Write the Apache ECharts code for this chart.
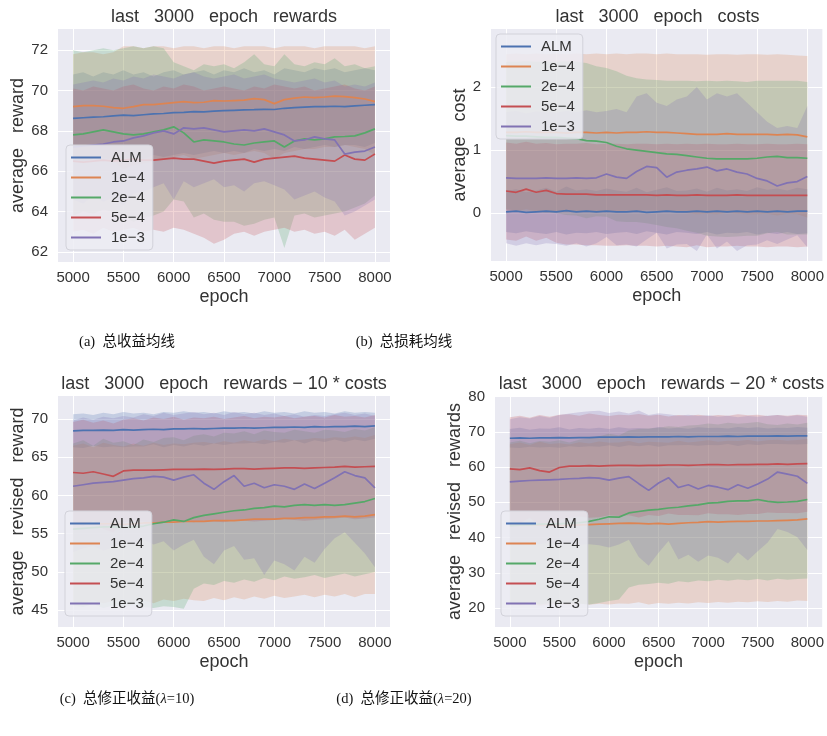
<!DOCTYPE html>
<html>
<head>
<meta charset="utf-8">
<script src="https://cdn.jsdelivr.net/npm/echarts@6/dist/echarts.min.js"></script>
<style>
  html, body { margin: 0; padding: 0; background: #ffffff; }
  #chart { width: 827px; height: 736px; }
</style>
</head>
<body>
<div id="chart"></div>
<script>
// ---- data -------------------------------------------------------------
const epochs = [5000,5100,5200,5300,5400, 5500,5600,5700,5800,5900, 6000,6100,6200,6300,6400,
  6500,6600,6700,6800,6900, 7000,7100,7200,7300,7400, 7500,7600,7700,7800,7900, 8000];
const seriesNames = ['ALM', '1e\u22124', '2e\u22124', '5e\u22124', '1e\u22123'];
const xTicks = [5000, 5500, 6000, 6500, 7000, 7500, 8000];
const rewardTicks = [62, 64, 66, 68, 70, 72];
const costTicks = [0, 1, 2];
const rev10Ticks = [45, 50, 55, 60, 65, 70];
const rev20Ticks = [20, 30, 40, 50, 60, 70, 80];

// rows follow seriesNames: ALM, 1e-4, 2e-4, 5e-4, 1e-3
const rewardMean = [
  [68.62,68.65,68.68,68.70,68.74, 68.78,68.76,68.80,68.84,68.86, 68.90,68.92,68.95,68.94,68.98, 69.00,69.02,69.04,69.05,69.07, 69.06,69.12,69.15,69.18,69.20, 69.20,69.22,69.20,69.24,69.27, 69.30],
  [69.20,69.25,69.25,69.22,69.15, 69.12,69.20,69.30,69.30,69.35, 69.40,69.45,69.40,69.42,69.50, 69.48,69.50,69.52,69.60,69.55, 69.35,69.55,69.62,69.68,69.65, 69.68,69.72,69.70,69.65,69.58, 69.45],
  [67.80,67.85,67.95,68.05,67.95, 67.85,67.80,67.85,67.95,68.05, 68.20,67.90,67.45,67.55,67.50, 67.45,67.35,67.30,67.40,67.45, 67.50,67.20,67.50,67.60,67.55, 67.60,67.70,67.72,67.75,67.90, 68.10],
  [66.50,66.45,66.50,66.55,66.50, 66.55,66.60,66.55,66.55,66.60, 66.65,66.60,66.60,66.50,66.40, 66.50,66.55,66.60,66.45,66.60, 66.65,66.70,66.75,66.65,66.60, 66.55,66.50,66.80,66.60,66.55, 66.85],
  [67.20,67.25,67.30,67.35,67.45, 67.50,67.65,67.75,67.90,68.00, 67.85,68.15,68.10,68.15,68.05, 67.95,68.00,68.05,68.00,68.10, 67.95,67.80,67.50,67.55,67.70, 67.60,67.55,66.85,66.95,67.00, 67.20]
];
const rewardHigh = [
  [70.8,70.9,70.7,70.9,70.8, 71.0,70.8,70.9,70.7,70.9, 71.0,70.8,70.9,71.0,70.8, 71.0,70.9,71.1,70.9,71.0, 70.8,71.1,71.0,70.9,71.1, 71.0,71.1,70.9,71.0,71.1, 71.0],
  [71.8,71.9,71.9,71.8,71.9, 72.2,72.2,72.1,72.2,72.2, 72.1,72.2,72.2,72.1,72.2, 72.2,72.1,72.2,72.2,72.2, 72.1,72.2,72.2,72.2,72.1, 72.2,72.2,72.2,72.2,72.1, 72.2],
  [72.0,71.9,72.0,72.1,72.0, 72.1,72.2,72.1,72.2,72.1, 71.4,71.2,71.0,71.3,71.2, 71.3,71.1,71.4,71.8,71.3, 71.2,71.8,71.3,71.2,71.4, 71.3,71.6,71.2,71.3,71.1, 71.2],
  [70.1,70.0,70.2,70.1,70.0, 70.2,70.3,70.1,70.0,70.2, 70.1,70.3,70.2,70.0,70.1, 70.2,70.1,70.0,70.2,70.1, 70.3,70.2,70.1,70.2,70.0, 70.1,70.2,70.3,70.1,70.0, 70.2],
  [70.3,70.4,70.5,70.4,70.6, 70.5,70.7,70.6,70.8,70.7, 70.6,70.8,70.9,70.7,70.6, 70.7,70.8,70.6,70.7,70.8, 70.6,70.5,70.4,70.5,70.6, 70.4,70.5,70.2,70.3,70.2, 70.4]
];
const rewardLow = [
  [66.5,66.4,66.6,66.5,66.7, 66.6,66.7,66.6,66.8,66.7, 66.8,66.9,66.8,66.9,67.0, 66.9,67.0,66.9,67.1,67.0, 67.1,67.0,67.2,67.1,67.2, 67.3,67.2,67.3,67.3,67.2, 67.4],
  [66.6,66.5,66.6,66.7,66.5, 66.1,66.3,66.4,66.5,66.6, 66.7,66.8,66.6,66.7,66.8, 66.9,66.8,66.9,67.0,66.9, 66.6,66.9,67.0,67.1,67.1, 67.2,67.2,67.3,67.2,67.1, 66.8],
  [63.8,64.0,63.9,64.1,64.0, 63.8,63.5,63.7,63.8,64.0, 64.6,64.5,63.7,63.9,63.6, 63.5,63.5,63.3,63.4,63.6, 63.7,62.2,63.8,63.9,63.7, 63.8,63.9,64.0,64.2,64.4, 64.8],
  [63.0,63.1,62.9,63.2,63.0, 63.1,63.2,63.0,63.1,63.0, 63.2,63.1,62.9,62.7,62.4, 62.6,62.9,63.0,62.8,63.0, 63.1,63.2,63.0,63.1,62.9, 63.0,62.8,63.1,62.6,62.9, 63.2],
  [64.6,64.4,64.8,64.5,64.7, 64.3,64.9,65.0,65.2,65.4, 64.6,65.5,65.2,65.4,65.6, 65.2,65.3,65.0,65.4,65.5, 65.3,65.1,64.6,64.8,65.0, 64.7,64.5,63.8,64.0,64.3, 64.6]
];

const costMean = [
  [0.02,0.03,0.01,0.02,0.03, 0.02,0.04,0.02,0.03,0.02, 0.03,0.02,0.02,0.03,0.01, 0.02,0.03,0.02,0.02,0.03, 0.02,0.03,0.02,0.03,0.02, 0.03,0.02,0.03,0.02,0.03, 0.03],
  [1.28,1.28,1.29,1.28,1.28, 1.28,1.27,1.28,1.28,1.27, 1.28,1.27,1.28,1.28,1.29, 1.28,1.28,1.27,1.26,1.25, 1.25,1.25,1.26,1.25,1.25, 1.25,1.25,1.24,1.25,1.24, 1.21],
  [1.23,1.22,1.22,1.21,1.20, 1.20,1.19,1.18,1.15,1.14, 1.12,1.06,1.02,1.00,0.98, 0.96,0.94,0.93,0.91,0.89, 0.87,0.86,0.86,0.86,0.86, 0.87,0.89,0.90,0.88,0.88, 0.87],
  [0.35,0.33,0.38,0.33,0.36, 0.31,0.30,0.30,0.30,0.29, 0.29,0.29,0.29,0.29,0.29, 0.28,0.29,0.28,0.28,0.29, 0.28,0.28,0.28,0.29,0.28, 0.28,0.28,0.28,0.28,0.28, 0.28],
  [0.56,0.55,0.55,0.55,0.56, 0.55,0.55,0.56,0.55,0.56, 0.62,0.57,0.55,0.66,0.74, 0.72,0.57,0.65,0.68,0.70, 0.73,0.67,0.70,0.65,0.62, 0.55,0.51,0.43,0.48,0.50, 0.58]
];
const costHigh = [
  [0.35,0.38,0.33,0.36,0.40, 0.34,0.42,0.36,0.38,0.35, 0.39,0.36,0.34,0.40,0.33, 0.37,0.41,0.35,0.36,0.39, 0.34,0.40,0.36,0.38,0.35, 0.41,0.37,0.39,0.36,0.40, 0.38],
  [2.52,2.53,2.52,2.53,2.52, 2.53,2.52,2.53,2.52,2.53, 2.52,2.53,2.52,2.53,2.53, 2.52,2.53,2.52,2.52,2.52, 2.51,2.52,2.52,2.51,2.52, 2.52,2.51,2.52,2.51,2.50, 2.49],
  [2.40,2.40,2.41,2.40,2.40, 2.40,2.41,2.40,2.38,2.33, 2.30,2.25,2.18,2.14,2.12, 2.11,2.10,2.10,2.10,2.09, 2.10,2.09,2.10,2.09,2.08, 2.10,2.10,2.10,2.10,2.10, 2.08],
  [1.12,1.10,1.13,1.10,1.11, 1.09,1.10,1.10,1.11,1.09, 1.10,1.10,1.09,1.10,1.10, 1.09,1.10,1.09,1.10,1.09, 1.10,1.09,1.09,1.10,1.09, 1.09,1.10,1.09,1.09,1.10, 1.09],
  [1.60,1.62,1.58,1.61,1.60, 1.59,1.62,1.60,1.63,1.60, 1.62,1.65,1.60,1.85,1.90, 1.75,1.70,1.80,1.85,2.00, 1.80,1.90,1.85,1.90,1.75, 1.60,1.45,1.35,1.38,1.35, 1.70]
];
const costLow = [
  [-0.30,-0.32,-0.29,-0.31,-0.33, -0.30,-0.34,-0.31,-0.32,-0.30, -0.33,-0.31,-0.30,-0.33,-0.29, -0.31,-0.34,-0.30,-0.31,-0.33, -0.30,-0.34,-0.31,-0.32,-0.30, -0.34,-0.31,-0.33,-0.30,-0.33, -0.32],
  [0.04,0.03,0.06,0.03,0.04, 0.03,0.02,0.03,0.04,0.01, 0.04,0.01,0.04,0.03,0.05, 0.04,0.03,0.02,0.00,-0.02, -0.01,-0.02,0.00,-0.01,-0.02, -0.02,-0.01,-0.04,-0.01,-0.02, -0.07],
  [0.06,0.04,0.03,0.02,0.00, 0.00,-0.03,-0.04,-0.08,-0.05, -0.06,-0.13,-0.14,-0.14,-0.16, -0.19,-0.22,-0.24,-0.28,-0.31, -0.36,-0.37,-0.38,-0.37,-0.36, -0.36,-0.32,-0.30,-0.34,-0.34, -0.34],
  [-0.42,-0.44,-0.37,-0.44,-0.39, -0.47,-0.50,-0.50,-0.51,-0.51, -0.52,-0.52,-0.51,-0.52,-0.52, -0.53,-0.52,-0.53,-0.54,-0.51, -0.54,-0.53,-0.53,-0.52,-0.53, -0.53,-0.54,-0.53,-0.53,-0.54, -0.53],
  [-0.48,-0.52,-0.48,-0.51,-0.48, -0.49,-0.52,-0.48,-0.53,-0.48, -0.38,-0.51,-0.50,-0.53,-0.42, -0.31,-0.56,-0.50,-0.49,-0.60, -0.34,-0.56,-0.45,-0.60,-0.51, -0.50,-0.43,-0.49,-0.42,-0.35, -0.54]
];

const rev10Mean = [
  [68.45,68.50,68.50,68.55,68.50, 68.60,68.55,68.60,68.65,68.60, 68.70,68.70,68.75,68.70,68.75, 68.80,68.80,68.85,68.80,68.85, 68.90,68.90,68.95,68.90,69.00, 68.95,69.00,69.00,69.05,69.00, 69.10],
  [56.3,56.4,56.3,56.3,56.3, 56.2,56.3,56.4,56.4,56.5, 56.5,56.6,56.6,56.6,56.7, 56.7,56.7,56.8,56.9,56.9, 56.9,57.0,57.0,57.1,57.1, 57.2,57.2,57.3,57.2,57.3, 57.5],
  [55.6,55.7,55.8,55.9,55.9, 55.8,55.9,56.0,56.3,56.5, 56.8,56.6,57.1,57.4,57.6, 57.8,58.0,58.1,58.3,58.4, 58.6,58.5,58.7,58.8,58.7, 58.8,58.7,58.8,59.0,59.2, 59.6],
  [63.0,62.9,63.1,62.8,62.5, 63.2,63.3,63.3,63.3,63.35, 63.4,63.4,63.4,63.45,63.4, 63.45,63.5,63.5,63.45,63.5, 63.55,63.6,63.6,63.55,63.6, 63.65,63.7,63.8,63.7,63.75, 63.8],
  [61.2,61.4,61.6,61.7,61.8, 62.0,62.2,62.3,62.5,62.4, 62.0,62.4,62.7,61.6,60.8, 61.8,62.6,61.2,61.6,61.0, 61.4,61.2,60.8,61.5,60.9, 61.6,62.3,63.1,62.6,62.3, 61.0]
];
const rev10High = [
  [70.6,70.7,70.5,70.8,70.6, 70.9,70.7,70.8,70.6,70.9, 70.8,71.0,70.8,70.9,70.7, 71.0,70.8,70.9,70.7,71.0, 70.8,70.9,70.7,71.0,70.8, 70.9,70.7,71.0,70.8,70.9, 70.8],
  [66.5,66.8,66.3,66.9,66.6, 66.4,66.8,66.5,66.9,66.6, 66.8,66.7,66.9,67.0,66.8, 67.1,66.9,67.2,67.0,67.3, 67.1,67.4,67.2,67.3,67.5, 67.4,67.6,67.5,67.7,67.5, 67.9],
  [66.8,67.2,66.5,67.4,66.9, 67.1,66.6,67.3,67.0,67.5, 67.6,67.2,67.8,68.0,67.7, 68.2,68.1,68.4,68.0,68.5, 68.3,68.2,68.6,68.4,68.2, 68.6,68.5,68.3,68.7,68.5, 68.9],
  [69.6,69.9,69.5,69.8,69.4, 69.9,70.1,69.8,70.2,70.0, 70.3,69.9,70.2,70.1,70.3, 70.0,70.2,70.4,70.1,70.3, 70.2,70.4,70.1,70.3,70.4, 70.2,70.5,70.3,70.4,70.2, 70.5],
  [69.8,70.2,69.9,70.3,70.1, 70.4,70.2,70.6,70.4,70.8, 70.5,70.7,70.9,70.6,70.8, 70.5,70.9,70.6,70.8,70.5, 70.7,70.4,70.6,70.3,70.5, 70.4,70.6,70.8,70.5,70.7, 70.4]
];
const rev10Low = [
  [66.3,66.2,66.5,66.3,66.4, 66.3,66.4,66.4,66.7,66.3, 66.6,66.4,66.7,66.5,66.8, 66.6,66.8,66.8,66.9,66.7, 67.0,66.9,67.2,66.8,67.2, 67.0,67.3,67.0,67.3,67.1, 67.4],
  [46.1,46.0,46.3,45.9,46.2, 46.4,46.0,46.3,45.9,46.4, 46.2,46.5,46.3,46.2,46.6, 46.3,46.7,46.4,46.8,46.5, 46.9,46.6,46.8,47.0,46.7, 47.0,46.8,47.1,46.7,47.1, 47.1],
  [45.6,45.4,45.8,45.3,45.6, 45.5,45.7,45.4,45.3,45.5, 45.4,45.2,47.8,48.5,48.3, 48.8,48.6,49.0,48.7,49.2, 48.9,49.4,49.1,49.3,49.6, 49.2,49.5,49.8,49.4,49.7, 50.0],
  [56.4,56.0,56.7,55.6,55.2, 56.5,56.7,56.6,56.4,56.5, 56.6,56.7,56.5,56.7,56.6, 56.5,56.8,56.7,56.6,56.7, 56.8,56.9,56.8,56.7,56.8, 56.9,57.0,57.1,56.9,57.0, 57.1],
  [52.6,53.1,53.4,52.8,53.2, 54.0,53.5,54.2,53.6,54.0, 52.8,53.6,54.2,52.0,51.0, 52.8,53.4,51.6,51.8,49.6, 51.5,51.0,50.2,52.0,51.2, 53.0,54.4,55.2,53.8,52.4, 50.6]
];

const rev20Mean = [
  [68.2,68.3,68.2,68.3,68.3, 68.4,68.3,68.4,68.4,68.5, 68.5,68.5,68.6,68.5,68.6, 68.6,68.6,68.7,68.6,68.7, 68.7,68.7,68.8,68.7,68.8, 68.8,68.8,68.9,68.8,68.9, 68.9],
  [43.6,43.7,43.6,43.6,43.5, 43.4,43.5,43.6,43.7,43.8, 43.9,44.0,44.1,44.0,43.9, 44.0,43.8,44.0,44.2,44.3, 44.5,44.4,44.5,44.6,44.6, 44.7,44.7,44.8,44.9,45.0, 45.3],
  [43.4,43.5,43.6,43.8,43.9, 43.9,44.1,44.2,44.6,45.2, 45.9,45.8,47.0,47.4,47.8, 48.0,48.4,48.6,49.0,49.3, 49.8,49.9,50.3,50.4,50.4, 50.8,50.3,50.0,50.1,50.3, 50.8],
  [59.5,59.3,59.8,59.0,58.6, 59.9,60.3,60.3,60.4,60.3, 60.4,60.5,60.5,60.4,60.5, 60.5,60.6,60.6,60.5,60.6, 60.7,60.7,60.6,60.7,60.7, 60.8,60.8,60.9,60.8,60.9, 61.0],
  [55.8,56.0,56.2,56.3,56.4, 56.5,56.7,56.8,57.0,56.9, 56.3,56.9,57.3,55.3,53.4, 55.5,57.0,54.2,55.0,53.8, 54.8,54.3,53.6,55.0,54.0, 55.2,56.6,58.6,58.0,57.4, 55.4]
];
const rev20High = [
  [70.8,71.2,70.6,71.0,70.9, 71.3,70.7,71.1,70.9,71.2, 70.8,71.3,71.0,71.1,70.9, 71.4,71.0,71.2,70.9,71.3, 71.1,71.2,71.0,71.4,71.1, 71.3,71.0,71.2,71.1,71.4, 71.2],
  [66.5,67.0,66.3,67.2,66.6, 66.8,66.4,67.1,66.7,67.3, 66.9,67.0,67.4,66.8,67.2, 67.1,66.9,67.5,67.0,67.3, 67.6,67.2,67.5,67.4,67.7, 67.3,67.6,67.8,67.5,67.7, 68.0],
  [67.0,67.5,66.8,67.4,67.2, 67.6,67.0,67.8,68.2,68.8, 69.5,69.0,70.4,70.8,71.0, 71.2,71.6,71.4,71.8,72.0, 72.4,72.1,72.6,72.3,72.5, 72.8,72.2,72.0,72.4,72.1, 72.6],
  [74.2,74.6,74.0,74.8,74.3, 74.9,75.0,74.6,75.2,74.8, 74.5,74.9,74.7,75.1,74.6, 74.9,74.4,74.8,74.6,74.9, 74.5,74.8,74.6,75.0,74.7, 74.9,74.5,74.8,74.6,74.9, 74.7],
  [73.6,74.2,73.8,74.5,74.0, 74.8,75.2,75.6,75.9,76.0, 75.4,75.8,75.2,76.1,74.8, 75.3,75.0,74.6,74.9,74.5, 74.7,74.3,74.6,74.2,74.5, 74.3,74.6,74.8,74.4,74.7, 74.3]
];
const rev20Low = [
  [65.6,65.4,65.8,65.6,65.7, 65.5,65.9,65.7,65.9,65.8, 66.2,65.7,66.2,65.9,66.3, 65.8,66.2,66.2,66.3,66.1, 66.3,66.2,66.6,66.0,66.5, 66.3,66.6,66.6,66.5,66.4, 66.6],
  [21.0,20.8,21.2,20.6,21.0, 21.1,20.8,21.3,20.9,21.2, 21.0,21.3,21.2,21.6,21.0, 21.4,21.2,21.5,21.3,21.6, 21.4,21.7,21.5,21.8,21.6, 21.9,21.7,22.0,21.8,22.1, 22.0],
  [21.4,21.2,21.6,21.0,21.4, 21.3,21.5,21.2,21.0,21.4, 22.0,22.4,25.8,26.6,26.8, 27.2,26.9,27.6,27.3,27.8, 27.6,28.0,27.7,28.1,27.9, 28.2,27.8,28.3,28.0,28.2, 28.4],
  [44.8,44.0,45.6,43.2,42.9, 45.0,45.6,46.0,45.6,45.8, 46.3,46.1,46.3,45.7,46.4, 46.1,46.8,46.4,46.4,46.3, 46.9,46.6,46.6,46.4,46.7, 46.7,47.1,47.0,47.0,46.9, 47.3],
  [38.0,37.8,38.6,38.1,38.8, 38.2,38.2,38.0,38.1,37.8, 37.2,38.0,39.4,34.5,32.0, 35.7,39.0,33.8,35.1,33.1, 34.9,34.3,32.6,35.8,33.5, 36.1,38.6,42.4,41.6,40.1, 36.5]
];

// ---- styling / layout --------------------------------------------------
const palette = ['#4C72B0', '#DD8452', '#55A868', '#C44E52', '#8172B3'];
const FONT = "'Liberation Sans', Arial, Helvetica, sans-serif";
const CAPTION_FONT = "'Liberation Serif', 'Times New Roman', 'Noto Sans CJK SC', serif";
const TEXT = '#333333';

const panels = [
  { mean: rewardMean, low: rewardLow, high: rewardHigh, ticks: rewardTicks,
    grid: { left: 58, top: 29, width: 332, height: 233 }, yMin: 61.5, yMax: 73.05,
    yName: 'average   reward', yGap: 31,
    title: 'last   3000   epoch   rewards', legend: { left: 66, top: 145 } },
  { mean: costMean, low: costLow, high: costHigh, ticks: costTicks,
    grid: { left: 491, top: 29, width: 333, height: 232 }, yMin: -0.76, yMax: 2.92,
    yName: 'average   cost', yGap: 21,
    title: 'last   3000   epoch   costs', legend: { left: 496, top: 34 } },
  { mean: rev10Mean, low: rev10Low, high: rev10High, ticks: rev10Ticks,
    grid: { left: 58, top: 396, width: 332, height: 231 }, yMin: 42.8, yMax: 73.0,
    yName: 'average   revised   reward', yGap: 31,
    title: 'last   3000   epoch   rewards \u2212 10 * costs', legend: { left: 65, top: 511 } },
  { mean: rev20Mean, low: rev20Low, high: rev20High, ticks: rev20Ticks,
    grid: { left: 495, top: 396, width: 333, height: 231 }, yMin: 14.6, yMax: 80.2,
    yName: 'average   revised   rewards', yGap: 29,
    title: 'last   3000   epoch   rewards \u2212 20 * costs', legend: { left: 501, top: 511 } }
];

const captions = [
  { x: 127, y: 342, label: '(a)  总收益均线' },
  { x: 404, y: 342, label: '(b)  总损耗均线' },
  { x: 127, y: 699, label: '(c)  总修正收益(', lambda: '=10)' },
  { x: 404, y: 699, label: '(d)  总修正收益(', lambda: '=20)' }
];

// Filled band between the lower and upper bound of one run, drawn as a single
// polygon through the axis coordinate system.
function bandRenderer(color) {
  return function (params, api) {
    if (params.dataIndexInside !== 0) return null;
    const n = params.dataInsideLength;
    const pts = [];
    for (let i = 0; i < n; i++) pts.push(api.coord([api.value(0, i), api.value(2, i)]));
    for (let i = n - 1; i >= 0; i--) pts.push(api.coord([api.value(0, i), api.value(1, i)]));
    return {
      type: 'polygon',
      shape: { points: pts },
      style: { fill: color, opacity: 0.24 },
      silent: true
    };
  };
}

// ---- build option ------------------------------------------------------
const grids = [], xAxes = [], yAxes = [], series = [], legends = [], graphics = [];

panels.forEach((p, pi) => {
  grids.push(Object.assign({ show: true, backgroundColor: '#EAEAF2', borderWidth: 0 }, p.grid));

  xAxes.push({
    type: 'value', gridIndex: pi, min: 4850, max: 8150,
    axisLine: { show: false },
    axisTick: { show: false, customValues: xTicks },
    axisLabel: { customValues: xTicks, formatter: v => String(v), fontSize: 15,
                 color: TEXT, fontFamily: FONT, margin: 8 },
    splitLine: { show: true, lineStyle: { color: '#ffffff', width: 1 } },
    name: 'epoch', nameLocation: 'middle', nameGap: 26,
    nameTextStyle: { fontSize: 18, color: TEXT, fontFamily: FONT }
  });

  yAxes.push({
    type: 'value', gridIndex: pi, min: p.yMin, max: p.yMax,
    axisLine: { show: false },
    axisTick: { show: false, customValues: p.ticks },
    axisLabel: { customValues: p.ticks, formatter: v => String(v), fontSize: 15,
                 color: TEXT, fontFamily: FONT, margin: 10 },
    splitLine: { show: true, lineStyle: { color: '#ffffff', width: 1 } },
    name: p.yName, nameLocation: 'middle', nameGap: p.yGap,
    nameTextStyle: { fontSize: 18, color: TEXT, fontFamily: FONT }
  });

  // spread bands
  seriesNames.forEach((name, k) => {
    series.push({
      type: 'custom', xAxisIndex: pi, yAxisIndex: pi, clip: true,
      data: epochs.map((e, i) => [e, p.low[k][i], p.high[k][i]]),
      encode: { x: 0, y: [1, 2] },
      renderItem: bandRenderer(palette[k]),
      silent: true, z: 1
    });
  });

  // mean curves
  seriesNames.forEach((name, k) => {
    series.push({
      name: name, type: 'line', xAxisIndex: pi, yAxisIndex: pi,
      data: epochs.map((e, i) => [e, p.mean[k][i]]),
      symbol: 'none', itemStyle: { color: palette[k] },
      lineStyle: { color: palette[k], width: 1.7 }, z: 3
    });
  });

  legends.push({
    data: seriesNames, orient: 'vertical', left: p.legend.left, top: p.legend.top,
    icon: 'rect', itemWidth: 30, itemHeight: 2, itemGap: 5,
    textStyle: { fontSize: 15, color: TEXT, fontFamily: FONT, padding: [0, 0, 0, 5] },
    backgroundColor: 'rgba(236,236,243,0.85)', borderColor: '#d2d2da', borderWidth: 1,
    borderRadius: 4, padding: [5, 8, 5, 5], selectedMode: false, z: 5
  });

  const cx = p.grid.left + p.grid.width / 2;
  graphics.push({
    type: 'text', x: cx, y: p.grid.top - 12,
    style: { text: p.title, fontSize: 18, fontFamily: FONT, fill: TEXT,
             align: 'center', verticalAlign: 'middle' }
  });
});

captions.forEach(c => {
  const rich = {
    n: { fontSize: 14.5, fontFamily: CAPTION_FONT, fill: '#111' },
    i: { fontSize: 14.5, fontFamily: CAPTION_FONT, fontStyle: 'italic', fill: '#111' }
  };
  const text = c.lambda ? '{n|' + c.label + '}{i|λ}{n|' + c.lambda + '}' : '{n|' + c.label + '}';
  graphics.push({
    type: 'text', x: c.x, y: c.y,
    style: { text: text, rich: rich, align: 'center', verticalAlign: 'middle' }
  });
});

const chart = echarts.init(document.getElementById('chart'), null, { renderer: 'canvas' });
chart.setOption({
  animation: false,
  backgroundColor: '#ffffff',
  grid: grids, xAxis: xAxes, yAxis: yAxes,
  legend: legends, series: series, graphic: graphics
});
</script>
</body>
</html>
